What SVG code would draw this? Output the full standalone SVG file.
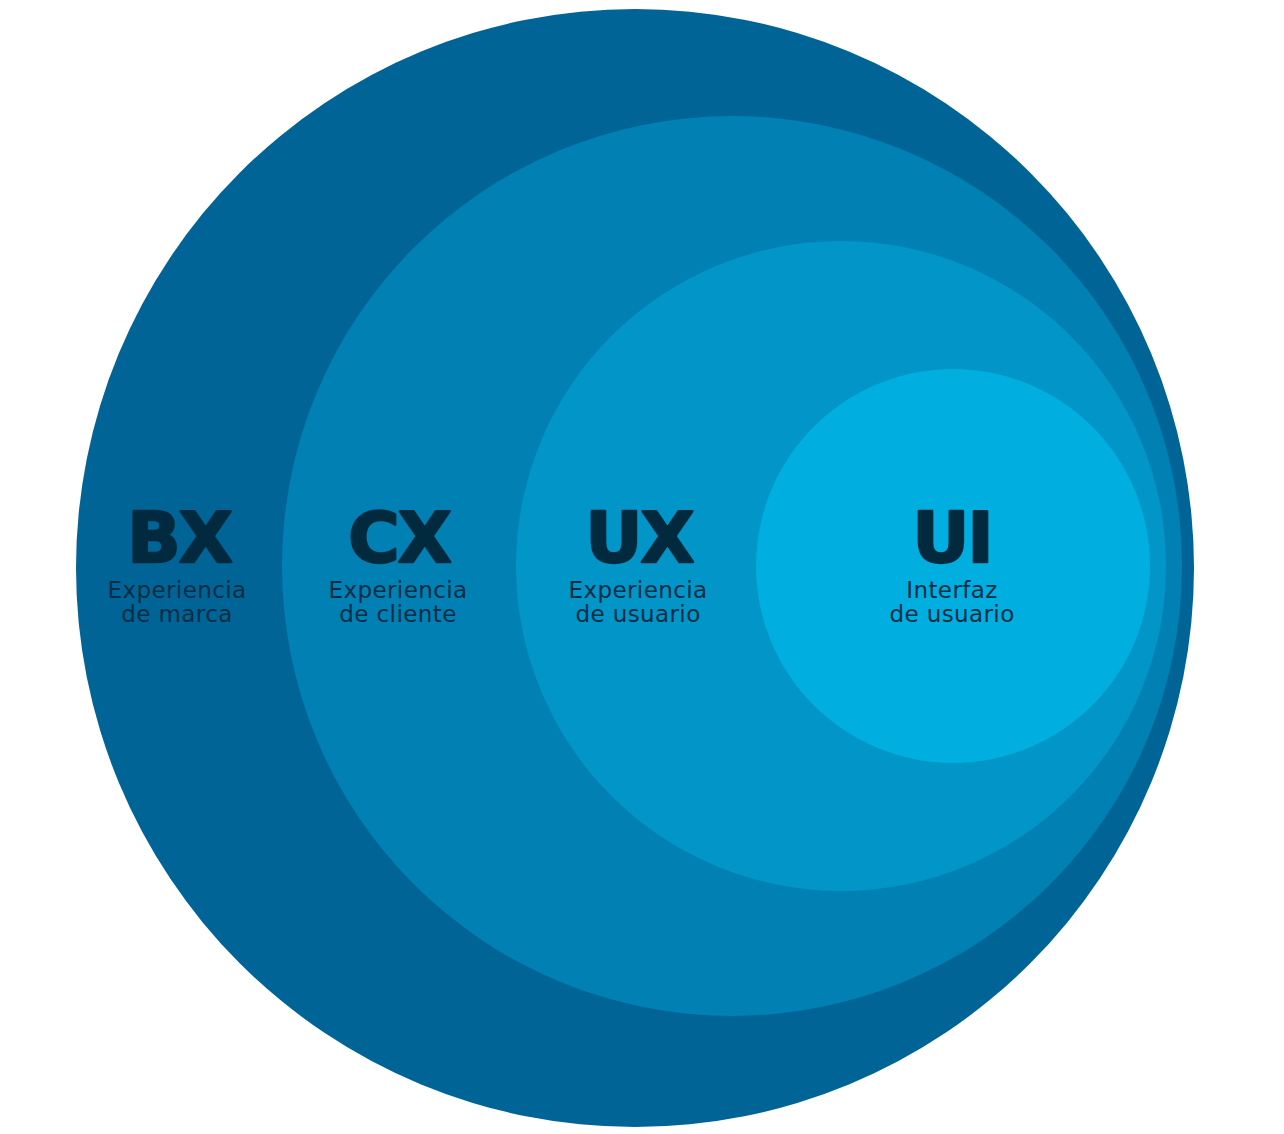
<svg xmlns="http://www.w3.org/2000/svg" width="1284" height="1134" viewBox="0 0 1284 1134">
<style>
.t{font-family:"DejaVu Sans","Liberation Sans",sans-serif;font-weight:bold;font-size:70px;fill:#022a3f;stroke:#022a3f;stroke-width:2.5;stroke-linejoin:round;text-anchor:middle;letter-spacing:-2px}
.s{font-family:"DejaVu Sans","Liberation Sans",sans-serif;font-size:23px;fill:#062d44;text-anchor:middle;letter-spacing:0.4px}
</style>
<rect width="1284" height="1134" fill="#ffffff"/>
<g id="bx"><circle cx="635" cy="568" r="559" fill="#016496"/>
<text class="t" x="179" y="562">BX</text>
<text class="s" x="177" y="598">Experiencia</text><text class="s" x="177" y="622">de marca</text></g>
<g id="cx"><circle cx="732" cy="566" r="450" fill="#0180b4"/>
<text class="t" x="399" y="562">CX</text>
<text class="s" x="398" y="598">Experiencia</text><text class="s" x="398" y="622">de cliente</text></g>
<g id="ux"><circle cx="841" cy="566" r="325" fill="#0195c8"/>
<text class="t" x="639" y="562">UX</text>
<text class="s" x="638" y="598">Experiencia</text><text class="s" x="638" y="622">de usuario</text></g>
<g id="ui"><circle cx="953" cy="566" r="197" fill="#00afdf"/>
<text class="t" x="952" y="562">UI</text>
<text class="s" x="952" y="598">Interfaz</text><text class="s" x="952" y="622">de usuario</text></g>
<g id="connectors"></g>
</svg>
